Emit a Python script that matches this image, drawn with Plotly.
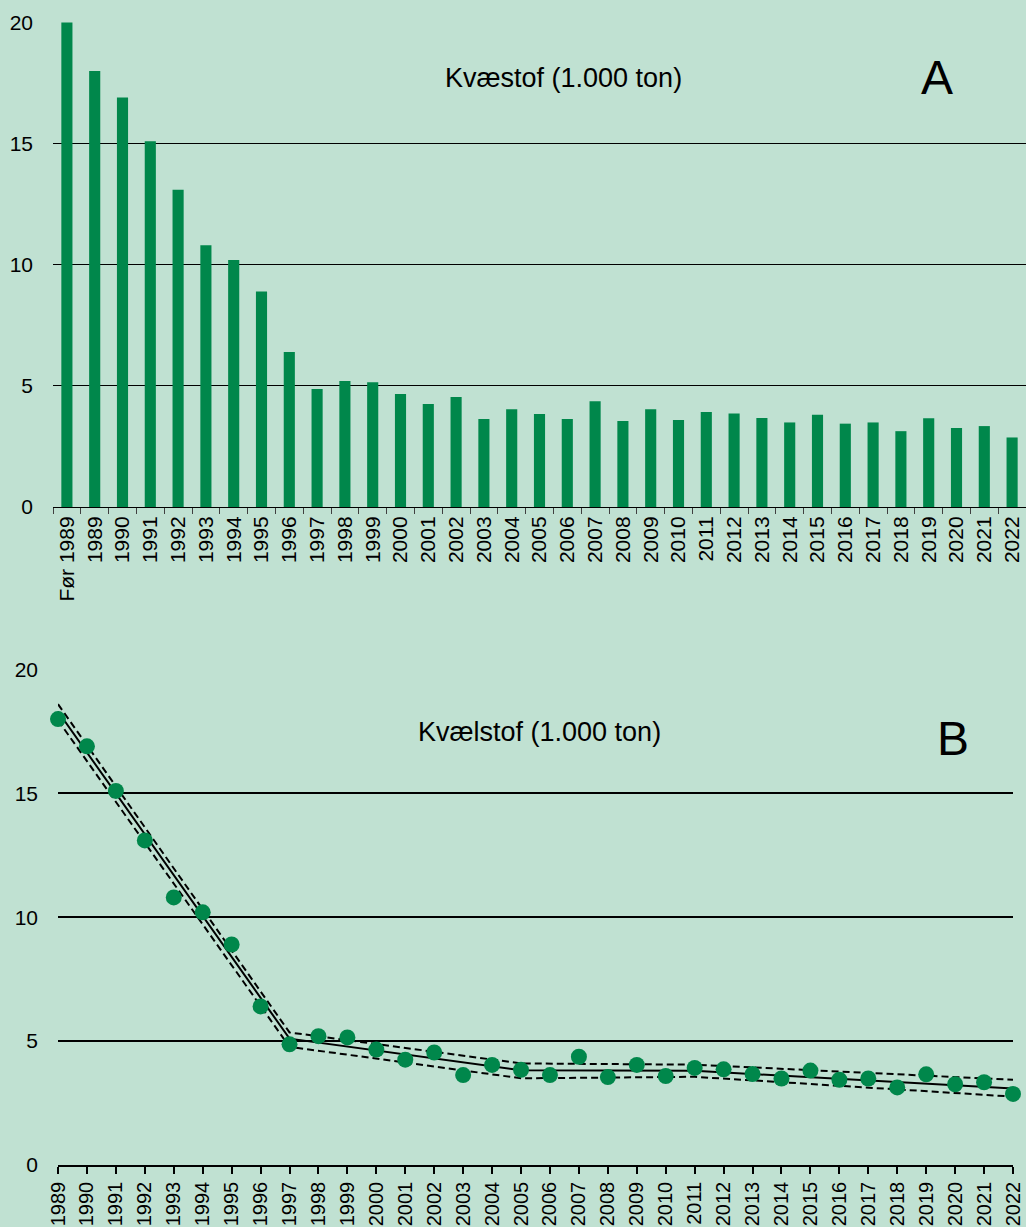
import plotly.graph_objects as go

# Annual nitrogen load (1.000 ton)
categories_a = ["Før 1989", "1989", "1990", "1991", "1992", "1993", "1994", "1995",
                "1996", "1997", "1998", "1999", "2000", "2001", "2002", "2003",
                "2004", "2005", "2006", "2007", "2008", "2009", "2010", "2011",
                "2012", "2013", "2014", "2015", "2016", "2017", "2018", "2019",
                "2020", "2021", "2022"]
values_a = [20.0, 18.0, 16.9, 15.1, 13.1, 10.8, 10.2, 8.9, 6.4, 4.87, 5.2, 5.15,
            4.66, 4.25, 4.54, 3.63, 4.04, 3.84, 3.63, 4.37, 3.55, 4.04, 3.59,
            3.92, 3.86, 3.67, 3.49, 3.81, 3.44, 3.49, 3.13, 3.66, 3.26, 3.34, 2.87]

years_b = [1989, 1990, 1991, 1992, 1993, 1994, 1995, 1996, 1997, 1998, 1999, 2000,
           2001, 2002, 2003, 2004, 2005, 2006, 2007, 2008, 2009, 2010, 2011, 2012,
           2013, 2014, 2015, 2016, 2017, 2018, 2019, 2020, 2021, 2022]
values_b = values_a[1:]

# Piecewise linear trend with confidence band (breakpoints)
trend_years = [1989, 1997, 2005, 2011, 2022]
trend_fit = [18.3, 5.1, 3.82, 3.8, 3.09]
trend_upper = [18.6, 5.35, 4.1, 4.05, 3.44]
trend_lower = [17.95, 4.77, 3.5, 3.56, 2.76]

BG = "#C0E1D2"
GREEN = "#00874B"
FONT = "Liberation Sans, Arial, sans-serif"

fig = go.Figure()

fig.add_trace(go.Bar(x=categories_a, y=values_a, marker_color=GREEN,
                     marker_line_width=0, width=0.4, xaxis="x", yaxis="y",
                     showlegend=False))

for ys, dash, w in [(trend_upper, "7px,4px", 2), (trend_lower, "7px,4px", 2),
                    (trend_fit, "solid", 2)]:
    fig.add_trace(go.Scatter(x=trend_years, y=ys, mode="lines",
                             line=dict(color="black", width=w, dash=dash),
                             xaxis="x2", yaxis="y2", showlegend=False))

fig.add_trace(go.Scatter(x=years_b, y=values_b, mode="markers",
                         marker=dict(color=GREEN, size=16),
                         cliponaxis=False, xaxis="x2", yaxis="y2",
                         showlegend=False))

W, H = 1026, 1227

def px_x(p):
    return p / W

def px_y(p):
    return 1 - p / H

tick_font = dict(family=FONT, size=21, color="black")
tick_font_b = dict(family=FONT, size=20, color="black")

fig.update_layout(
    width=W, height=H,
    margin=dict(l=0, r=0, t=0, b=0, autoexpand=False),
    paper_bgcolor=BG, plot_bgcolor=BG,
    font=dict(family=FONT, color="black"),
    xaxis=dict(domain=[px_x(53), 1.0], anchor="y", type="category",
               range=[-0.5, 34.5], tickson="boundaries", ticks="outside",
               ticklen=6, tickcolor="#404040", tickwidth=1,
               showline=True, linecolor="black", linewidth=1,
               tickangle=-90, tickfont=tick_font, showgrid=False,
               automargin=False),
    yaxis=dict(domain=[px_y(507), px_y(22)], anchor="x", range=[0, 20.02],
               tickvals=[0, 5, 10, 15, 20], showgrid=True, gridcolor="black",
               gridwidth=1, zeroline=False, ticks="", tickfont=tick_font,
               ticklabelstandoff=19, automargin=False),
    xaxis2=dict(domain=[px_x(58), px_x(1013)], anchor="y2", range=[1989, 2022],
                tickvals=years_b, ticktext=[str(y) for y in years_b],
                ticks="outside", ticklen=7, tickcolor="black", tickwidth=1.5,
                showline=True, linecolor="black", linewidth=1.5,
                tickangle=-90, tickfont=tick_font_b, showgrid=False,
                zeroline=False, automargin=False),
    yaxis2=dict(domain=[px_y(1165), px_y(669)], anchor="x2", range=[0, 20.02],
                tickvals=[0, 5, 10, 15, 20], showgrid=True, gridcolor="black",
                gridwidth=1.6, zeroline=False, ticks="", tickfont=tick_font,
                ticklabelstandoff=19, automargin=False),
    annotations=[
        dict(text="Kvæstof (1.000 ton)", x=px_x(563), y=px_y(78), xref="paper",
             yref="paper", xanchor="center", yanchor="middle", showarrow=False,
             font=dict(size=27, family=FONT)),
        dict(text="A", x=px_x(937), y=px_y(77), xref="paper", yref="paper",
             xanchor="center", yanchor="middle", showarrow=False,
             font=dict(size=48, family=FONT)),
        dict(text="Kvælstof (1.000 ton)", x=px_x(539), y=px_y(732), xref="paper",
             yref="paper", xanchor="center", yanchor="middle", showarrow=False,
             font=dict(size=27, family=FONT)),
        dict(text="B", x=px_x(953), y=px_y(738), xref="paper", yref="paper",
             xanchor="center", yanchor="middle", showarrow=False,
             font=dict(size=48, family=FONT)),
    ],
)

fig.write_html("out.html")
